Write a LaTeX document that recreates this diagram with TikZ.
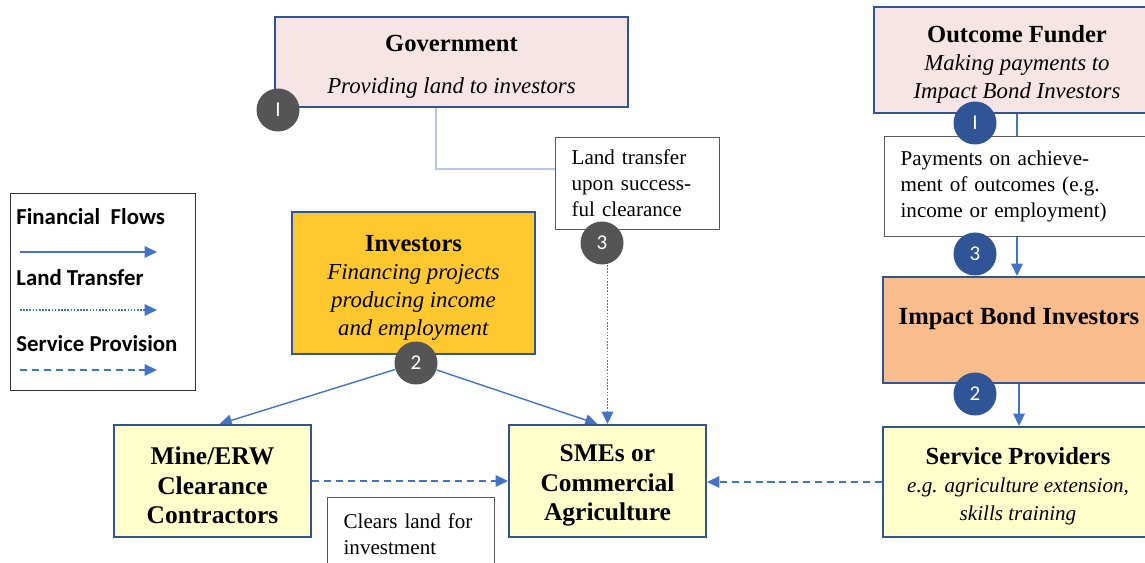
\documentclass[tikz,border=0pt]{standalone}
\usepackage{fontspec}
\setmainfont{Liberation Serif}
\newfontfamily\calibfont{Carlito}
\usetikzlibrary{arrows.meta,calc,backgrounds}
\definecolor{boxblue}{HTML}{2F5597}
\definecolor{flowblue}{HTML}{4472C4}
\definecolor{paleline}{HTML}{B4C7E7}
\definecolor{govpink}{HTML}{F7E4E4}
\definecolor{invgold}{HTML}{FFC82F}
\definecolor{ibipeach}{HTML}{F9BC8C}
\definecolor{paleyellow}{HTML}{FFFFCC}
\definecolor{badgegray}{HTML}{555555}
\definecolor{notegray}{HTML}{595959}
\newcommand{\px}[1]{#1*0.02cm}
\newcommand{\hd}[1]{{\fontsize{14}{16}\selectfont\bfseries\rule{0pt}{14.5pt}#1}}
\begin{document}
\begin{tikzpicture}[x=0.02cm,y=-0.02cm,
	box/.style={draw=boxblue,line width=1.1pt,align=center,inner sep=0pt,font=\fontsize{13}{16}\selectfont},
	actor/.style={box,fill=paleyellow,minimum width=\px{197},minimum height=\px{112},font=\fontsize{14.5}{16.8}\selectfont\bfseries},
	note/.style={draw=notegray,line width=0.7pt,fill=white,align=left,anchor=north west,inner xsep=\px{16},inner ysep=0pt,font=\fontsize{12}{14.8}\selectfont},
	badge/.style={circle,minimum size=\px{43},inner sep=0pt,text=white,font=\calibfont\fontsize{12}{14}\selectfont},
	grayb/.style={badge,fill=badgegray},
	blueb/.style={badge,fill=boxblue},
	legtext/.style={anchor=base west,inner sep=0pt,font=\calibfont\fontsize{13}{15}\selectfont\bfseries},
	flow/.style={draw=flowblue,line width=0.8pt,-{Triangle[length=7pt,width=6.5pt]}},
	land/.style={flow,dash pattern=on 0.9pt off 0.9pt},
	serv/.style={flow,dash pattern=on 4pt off 2.8pt},
	govline/.style={draw=paleline,line width=1pt}]
	\useasboundingbox (0,0) rectangle (1145,563);
	\clip (0,0) rectangle (1145,563);
	\node[box,fill=govpink,minimum width=\px{353},minimum height=\px{90}] (gov) at (451.5,62) {\hd{Government}\\[8pt]\textit{Providing land to investors}};
	\node[box,fill=govpink,minimum width=\px{286},minimum height=\px{106}] (of) at (1017,60) {\hd{Outcome Funder}\\\textit{Making payments to}\\\textit{Impact Bond Investors}};
	\node[box,fill=ibipeach,minimum width=\px{272},minimum height=\px{106}] (ibi) at (1019,330) {{\fontsize{14}{16}\selectfont\bfseries Impact Bond Investors}\\\mbox{}};
	\node[box,fill=paleyellow,minimum width=\px{270},minimum height=\px{110}] (sp) at (1018,482) {\hd{Service Providers}\\{\fontsize{12}{16}\selectfont\itshape e.g. agriculture extension,}\\{\fontsize{12}{16}\selectfont\itshape skills training}};
	\node[box,fill=invgold,minimum width=\px{243},minimum height=\px{142}] (inv) at (413.5,283) {\hd{Investors}\\\textit{Financing projects}\\\textit{producing income}\\\textit{and employment}};
	\node[actor] (sme) at (607.5,481) {\rule{0pt}{15pt}SMEs or\\Commercial\\Agriculture};
	\node[actor] (mine) at (212.5,481) {\rule{0pt}{15pt}Mine/ERW\\Clearance\\Contractors};
	\node[note,text width=\px{132},minimum height=\px{92}] (land) at (555,137) {Land transfer\\upon success-\\ful clearance};
	\node[note,text width=\px{244},minimum height=\px{100}] (pay) at (884,136) {Payments on achieve-\\ment of outcomes (e.g.\\income or employment)};
	\node[note,text width=\px{135},minimum height=\px{73}] (clr) at (327,497) {Clears land for\\investment};
	\node[grayb] (g1) at (278,110) {I};
	\node[grayb] (g2) at (416,363) {2};
	\node[grayb] (g3) at (602,243) {3};
	\node[blueb] (b1) at (975,123) {I};
	\node[blueb] (b3) at (975,254) {3};
	\node[blueb] (b2) at (975,394) {2};
	\begin{pgfonlayer}{background}
		\coordinate (govout) at ($(gov.south)+(-15.5,0)$);
		\coordinate (landin) at (555,169);
		\draw[govline] (govout) |- (landin);
		\draw[land] (sme.north |- g3) -- (sme.north);
		\draw[flow] (g2) -- ($(mine.north)+(7,0)$);
		\draw[flow] (g2) -- ($(sme.north)+(-10,0)$);
		\draw[flow] (of.south) -- (of.south |- ibi.north);
		\draw[flow] (ibi.south) -- (ibi.south |- sp.north);
		\draw[serv] (sp.west) -- (sp.west -| sme.east);
		\draw[serv] (mine.east) -- (sme.west);
	\end{pgfonlayer}
	\node[draw=black!80,line width=0.7pt,minimum width=\px{185},minimum height=\px{197},anchor=north west,inner sep=0pt] (legend) at (10,193) {};
	\foreach \lab/\ty/\ay/\sty [count=\i] in {Financial~~Flows/225/252/flow,Land Transfer/286/310/land,Service Provision/352/370/serv}{
		\node[legtext] (leg\i) at (16,\ty) {\lab};
		\coordinate (legs\i) at (20,\ay);
		\coordinate (lege\i) at (157,\ay);
		\draw[\sty] (legs\i) -- (lege\i);
	}
\end{tikzpicture}
\end{document}
